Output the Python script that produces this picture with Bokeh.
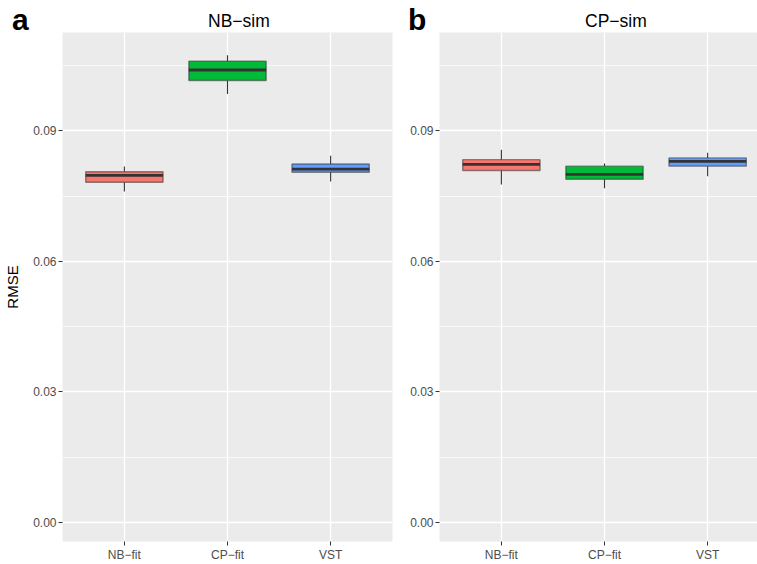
from bokeh.plotting import figure
from bokeh.layouts import row, column
from bokeh.models import FixedTicker, ColumnDataSource, Range1d, Div
from bokeh.embed import file_html
from bokeh.resources import INLINE

# ---- data ----
categories = ["NB−fit", "CP−fit", "VST"]
colors = ["#F8766D", "#00BA38", "#619CFF"]
y_ticks = [0.00, 0.03, 0.06, 0.09]
y_minor = [0.015, 0.045, 0.075, 0.105]
y_tick_labels = ["0.00", "0.03", "0.06", "0.09"]

# panel a: NB-sim
nb_lower = [0.0761, 0.0985, 0.0784]
nb_q1 = [0.0782, 0.1016, 0.0805]
nb_median = [0.0798, 0.1040, 0.0812]
nb_q3 = [0.0806, 0.1060, 0.0824]
nb_upper = [0.0818, 0.1074, 0.0843]

# panel b: CP-sim
cp_lower = [0.0777, 0.0768, 0.0796]
cp_q1 = [0.0809, 0.0789, 0.0819]
cp_median = [0.0823, 0.0800, 0.0830]
cp_q3 = [0.0834, 0.0819, 0.0838]
cp_upper = [0.0857, 0.0825, 0.0850]

panel_titles = ["NB−sim", "CP−sim"]
panel_tags = ["a", "b"]

FONT = "Liberation Sans"
BOX_W = 0.75
HEADER_H = 32
HEIGHT = 564 - HEADER_H
BOTTOM = 20


def make_panel(lower, q1, med, q3, upper, width, x_end, border_left, border_right, show_ylabel):
    p = figure(width=width, height=HEIGHT, output_backend="svg", toolbar_location=None,
               x_range=Range1d(0.4, x_end), y_range=Range1d(-0.00436, 0.11262),
               min_border_left=border_left, min_border_right=border_right,
               min_border_top=0, min_border_bottom=BOTTOM)
    p.background_fill_color = "#EBEBEB"
    p.border_fill_color = "white"
    p.outline_line_color = None

    xs = [i + 1 for i in range(len(categories))]
    src = ColumnDataSource(dict(
        x=xs, x0=[x - BOX_W / 2 for x in xs], x1=[x + BOX_W / 2 for x in xs],
        lower=lower, q1=q1, med=med, q3=q3, upper=upper, color=colors))

    # whiskers
    p.segment(x0="x", x1="x", y0="q3", y1="upper", source=src, line_color="#333333", line_width=1.1)
    p.segment(x0="x", x1="x", y0="lower", y1="q1", source=src, line_color="#333333", line_width=1.1)
    # boxes
    p.vbar(x="x", width=BOX_W, bottom="q1", top="q3", source=src, fill_color="color",
           line_color="#333333", line_alpha=0.55, line_width=1.4)
    # medians
    p.segment(x0="x0", x1="x1", y0="med", y1="med", source=src, line_color="#333333", line_width=2.8)

    # axes
    p.xaxis.ticker = FixedTicker(ticks=xs)
    p.xaxis.major_label_overrides = {x: c for x, c in zip(xs, categories)}
    p.yaxis.ticker = FixedTicker(ticks=y_ticks, minor_ticks=y_minor)
    p.yaxis.major_label_overrides = {t: l for t, l in zip(y_ticks, y_tick_labels)}
    for ax in (p.xaxis[0], p.yaxis[0]):
        ax.axis_line_color = None
        ax.major_tick_line_color = "#333333"
        ax.major_tick_out = 4
        ax.major_tick_in = 0
        ax.minor_tick_line_color = None
        ax.major_label_text_font = FONT
        ax.major_label_text_font_size = "12px"
        ax.major_label_text_color = "#4D4D4D"
        ax.major_label_standoff = 2
    if show_ylabel:
        p.yaxis.axis_label = "RMSE"
        p.yaxis.axis_label_text_font = FONT
        p.yaxis.axis_label_text_font_style = "normal"
        p.yaxis.axis_label_text_font_size = "15px"
        p.yaxis.axis_label_text_color = "black"
        p.yaxis.axis_label_standoff = 9

    # grid
    p.xgrid.ticker = FixedTicker(ticks=xs)
    p.xgrid.grid_line_color = "white"
    p.xgrid.grid_line_width = 1.4
    p.ygrid.grid_line_color = "white"
    p.ygrid.grid_line_width = 1.4
    p.ygrid.minor_grid_line_color = "white"
    p.ygrid.minor_grid_line_width = 0.7
    return p


def make_header(tag, title, width, tag_left, title_left):
    html = (
        f'<div style="position:relative;width:{width}px;height:{HEADER_H}px;'
        f'font-family:\'{FONT}\';color:black;">'
        f'<span style="position:absolute;left:{tag_left}px;top:4.6px;font-size:30px;'
        f'font-weight:bold;line-height:1;white-space:nowrap;">{tag}</span>'
        f'<span style="position:absolute;left:{title_left}px;top:12.5px;font-size:17.5px;'
        f'line-height:1;white-space:nowrap;">{title}</span>'
        '</div>'
    )
    return Div(text=html, width=width, height=HEADER_H, margin=0)


p1 = make_panel(nb_lower, nb_q1, nb_median, nb_q3, nb_upper,
                width=400, x_end=3.6, border_left=62, border_right=8, show_ylabel=True)
p2 = make_panel(cp_lower, cp_q1, cp_median, cp_q3, cp_upper,
                width=357, x_end=3.4836, border_left=39, border_right=0, show_ylabel=False)
h1 = make_header(panel_tags[0], panel_titles[0], 400, 12, 208)
h2 = make_header(panel_tags[1], panel_titles[1], 357, 8, 185)

layout = column(row(h1, h2, spacing=0), row(p1, p2, spacing=0), spacing=0)
open("out.html", "w").write(file_html(layout, INLINE))
